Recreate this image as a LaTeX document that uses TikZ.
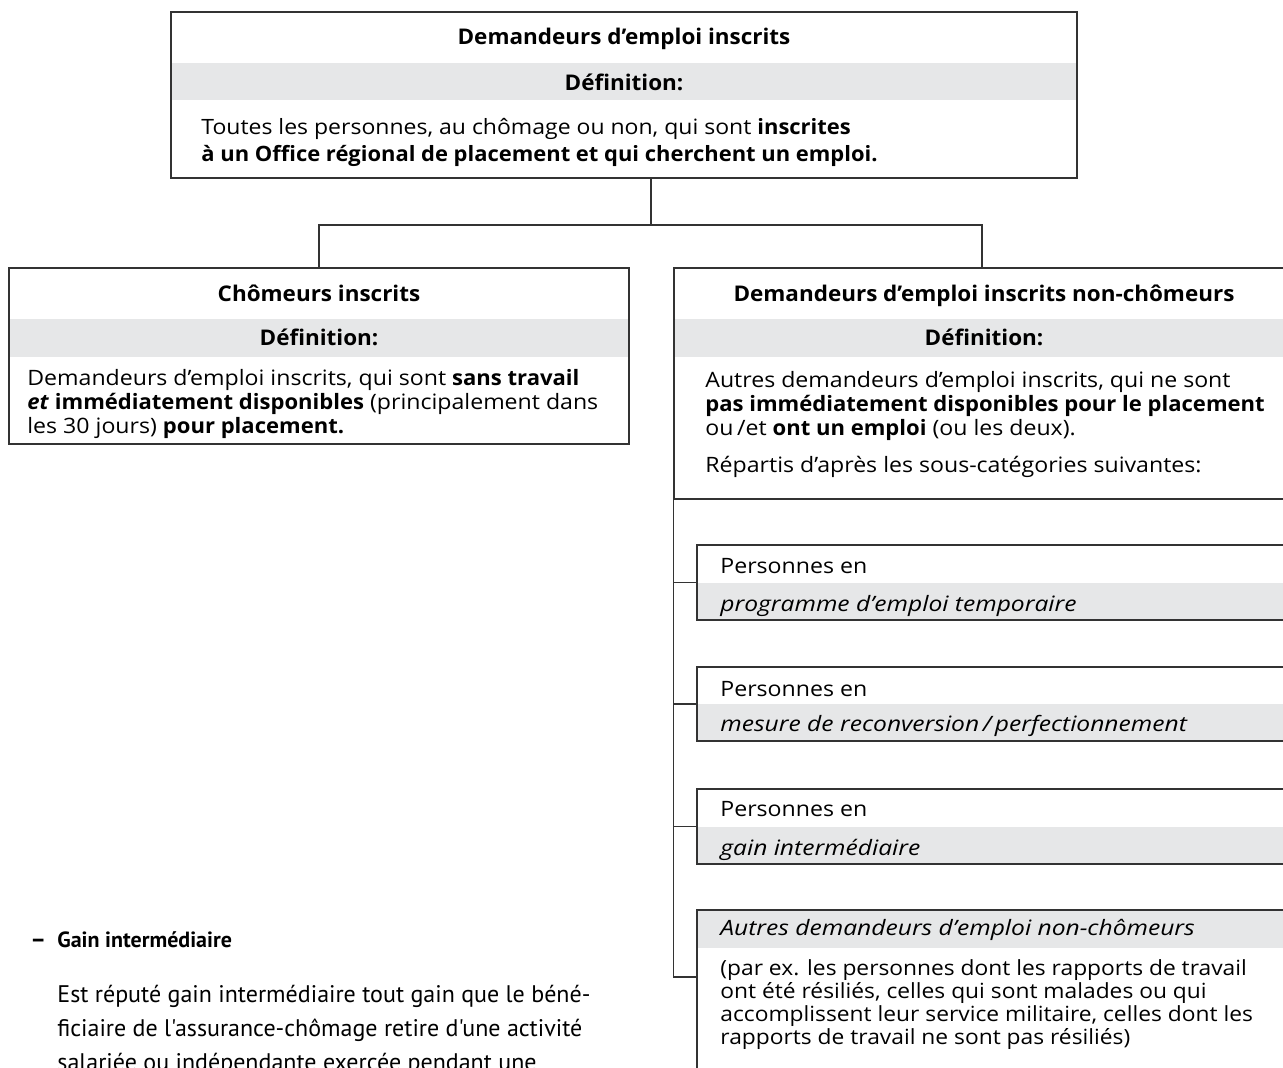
\documentclass[tikz,border=0pt]{standalone}
\usepackage{fontspec}
\setmainfont{Open Sans}[
  UprightFeatures={FakeStretch=1.09},
  BoldFeatures={FakeStretch=1.04},
  ItalicFeatures={FakeStretch=1.16},
  BoldItalicFeatures={FakeStretch=1.04}]
\newfontfamily\notefont{PT Sans}
\usetikzlibrary{fit}

\definecolor{bandgray}{HTML}{E6E7E8}
\definecolor{linegray}{HTML}{333333}

\tikzset{
  box/.style={draw=linegray, line width=0.7pt, inner sep=0pt},
  band/.style={fill=bandgray, inner sep=0pt},
  title/.style={anchor=base, inner sep=0pt, font=\fontsize{10.8}{12}\selectfont\bfseries},
  body/.style={anchor=base west, align=left, inner sep=0pt, font=\fontsize{10.6}{12}\selectfont},
  sub/.style={anchor=base west, inner sep=0pt, font=\fontsize{10.6}{12}\selectfont\itshape},
  note/.style={anchor=base west, align=left, inner sep=0pt, font=\notefont\fontsize{12}{17}\selectfont},
  conn/.style={draw=linegray, line width=0.7pt}
}

\begin{document}
\begin{tikzpicture}[x=0.5pt, y=-0.5pt]
  \useasboundingbox (0,0) rectangle (1283,1068);
  \clip (0,0) rectangle (1283,1068);

  % grey bands
  \node[band, fit={(171,63) (1077,100)}] (topband) {};
  \node[band, fit={(9,319) (629,357)}] (leftband) {};
  \node[band, fit={(674,319) (1290,357)}] (rightband) {};
  \node[band, fit={(697,583) (1290,620)}] (subAband) {};
  \node[band, fit={(697,704) (1290,741)}] (subBband) {};
  \node[band, fit={(697,827) (1290,864)}] (subCband) {};
  \node[band, fit={(697,910) (1290,948)}] (subDband) {};

  % boxes
  \node[box, fit={(171,12) (1077,178)}] (top) {};
  \node[box, fit={(9,268) (629,444)}] (left) {};
  \node[box, fit={(674,268) (1290,499)}] (right) {};
  \node[box, fit={(697,545) (1290,620)}] (subA) {};
  \node[box, fit={(697,667) (1290,741)}] (subB) {};
  \node[box, fit={(697,789) (1290,864)}] (subC) {};
  \node[box, fit={(697,910) (1290,1090)}] (subD) {};

  % top box (multi-line nodes sit on their last baseline)
  \node[title] (toptitle) at (624,45) {Demandeurs d’emploi inscrits};
  \node[title] (topdef) at (624,91) {Définition:};
  \node[body, font=\fontsize{10.55}{13.5}\selectfont] (toptext) at (201,162)
    {Toutes les personnes, au chômage ou non, qui sont \textbf{inscrites}\\
     \textbf{à un Office régional de placement et qui cherchent un emploi.}};

  % left box
  \node[title] (lefttitle) at (319,302) {Chômeurs inscrits};
  \node[title] (leftdef) at (319,346) {Définition:};
  \node[body] (lefttext) at (27,434)
    {Demandeurs d’emploi inscrits, qui sont \textbf{sans travail}\\
     \textbf{\textit{et} immédiatement disponibles} (principalement dans\\
     les 30 jours) \textbf{pour placement.}};

  % right box
  \node[title] (righttitle) at (984,302) {Demandeurs d’emploi inscrits non-chômeurs};
  \node[title] (rightdef) at (984,346) {Définition:};
  \node[body] (righttext) at (705,436)
    {Autres demandeurs d’emploi inscrits, qui ne sont\\
     \textbf{pas immédiatement disponibles pour le placement}\\
     ou\,/et \textbf{ont un emploi} (ou les deux).};
  \node[body] (rightsplit) at (705,473) {Répartis d’après les sous-catégories suivantes:};

  % sub-categories
  \node[body] (subAtop) at (720,574) {Personnes en};
  \node[sub] (subAbot) at (720,611) {programme d'emploi temporaire};
  \node[body] (subBtop) at (720,696) {Personnes en};
  \node[sub] (subBbot) at (720,731) {mesure de reconversion\,/\,perfectionnement};
  \node[body] (subCtop) at (720,816) {Personnes en};
  \node[sub] (subCbot) at (720,855) {gain intermédiaire};
  \node[sub] (subDtop) at (720,935) {Autres demandeurs d'emploi non-chômeurs};
  \node[body, font=\fontsize{10.45}{11.5}\selectfont] (subDtext) at (720,1044)
    {(par ex. les personnes dont les rapports de travail\\
     ont été résiliés, celles qui sont malades ou qui\\
     accomplissent leur service militaire, celles dont les\\
     rapports de travail ne sont pas résiliés)};

  % connectors
  \coordinate (split) at (651,225);
  \coordinate (subDin) at (697,977);
  \draw[conn] (split |- top.south) -- (split);
  \draw[conn] (left.north) |- (split) -| (right.north);
  \draw[conn] (right.south west) |- (subDin);
  \draw[conn] (subA.west) -- (subA.west -| right.west);
  \draw[conn] (subB.west) -- (subB.west -| right.west);
  \draw[conn] (subC.west) -- (subC.west -| right.west);

  % note below
  \node[note] (dash) at (30,947) {\textbf{–}};
  \node[note, font=\notefont\fontsize{11}{17}\selectfont\bfseries] (notehead) at (57,947) {Gain intermédiaire};
  \node[note] (notetext) at (57,1070)
    {Est réputé gain intermédiaire tout gain que le béné-\\
     ficiaire de l'assurance-chômage retire d'une activité\\
     salariée ou indépendante exercée pendant une};
\end{tikzpicture}
\end{document}
